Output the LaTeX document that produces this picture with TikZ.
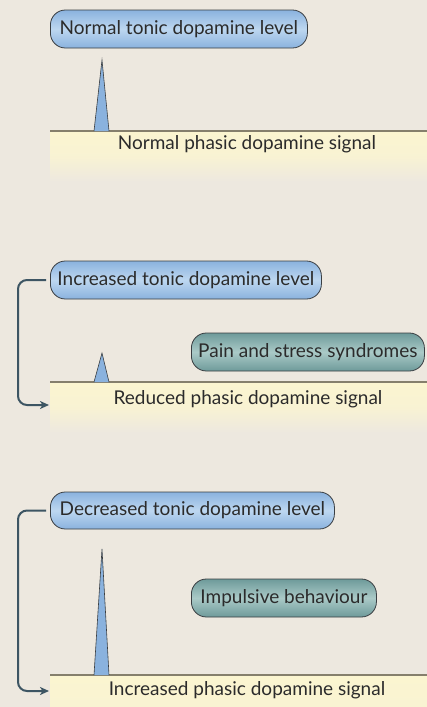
\documentclass[tikz,border=0pt]{standalone}
\usepackage{fontspec}
\setmainfont{Lato}
\usetikzlibrary{arrows.meta}
\definecolor{bg}{HTML}{EDE8DF}
\definecolor{bandy}{HTML}{FBF5D0}
\definecolor{bandline}{HTML}{857F6C}
\definecolor{blueedge}{HTML}{8AB2DE}
\definecolor{bluemid}{HTML}{BDD7F0}
\definecolor{tealedge}{HTML}{6E9A9A}
\definecolor{tealmid}{HTML}{AACAC7}
\definecolor{boxline}{HTML}{3A3E42}
\definecolor{conncol}{HTML}{3D5563}
\definecolor{txt}{HTML}{2B2B2B}
\tikzset{
  pill/.style={draw=boxline, line width=0.8pt, rounded corners=15pt, anchor=west,
    inner sep=0pt, text=txt, font=\fontsize{19}{22}\selectfont},
  tonic/.style={pill, top color=blueedge, bottom color=blueedge, middle color=bluemid},
  effect/.style={pill, top color=tealedge, bottom color=tealedge, middle color=tealmid},
  spike/.style={fill=blueedge, draw=boxline, line width=0.6pt, line join=miter},
  bandtext/.style={text=txt, font=\fontsize{19}{22}\selectfont, inner sep=0pt},
  conn/.style={draw=conncol, line width=2pt, rounded corners=9pt,
    -{Stealth[length=9pt,width=8pt,inset=2.5pt]}},
}
\begin{document}
\begin{tikzpicture}[x=1pt,y=-1pt]
\useasboundingbox (0,0) rectangle (427,707);
\fill[bg] (0,0) rectangle (427,707);

% bands
\shade[top color=bandy, bottom color=bg, middle color=bandy!80!bg] (50,131) rectangle (427,182);
\draw[bandline, line width=1.3pt] (50,131) -- (427,131);
\shade[top color=bandy, bottom color=bg, middle color=bandy!80!bg] (50,382) rectangle (427,433);
\draw[bandline, line width=1.3pt] (50,382) -- (427,382);
\shade[top color=bandy, bottom color=bandy!85!bg] (50,675) rectangle (427,707);
\draw[bandline, line width=1.3pt] (50,675) -- (427,675);

% spikes
\filldraw[spike] (94,131) -- (102,60) -- (109,131);
\filldraw[spike] (94,382) -- (102,353) -- (109,382);
\filldraw[spike] (94,675) -- (102,549) -- (109,675);

% panel 1
\node[tonic, minimum width=257pt, minimum height=38pt] (t1) at (50,29) {Normal tonic dopamine level};
\node[bandtext] (s1) at (247,144) {Normal phasic dopamine signal};

% panel 2
\node[tonic, minimum width=271pt, minimum height=38pt] (t2) at (50,280) {Increased tonic dopamine level};
\node[effect, minimum width=233pt, minimum height=38pt] (e2) at (191,352) {Pain and stress syndromes};
\node[bandtext] (s2) at (248,399) {Reduced phasic dopamine signal};
\coordinate (a2) at (49,405);
\draw[conn] ([xshift=-4pt]t2.west) -- ++(-28,0) |- (a2);

% panel 3
\node[tonic, minimum width=284pt, minimum height=37pt] (t3) at (50,510.5) {Decreased tonic dopamine level};
\node[effect, minimum width=185pt, minimum height=38pt] (e3) at (191,598) {Impulsive behaviour};
\node[bandtext] (s3) at (247,690) {Increased phasic dopamine signal};
\coordinate (a3) at (49,691);
\draw[conn] ([xshift=-4pt]t3.west) -- ++(-28,0) |- (a3);
\end{tikzpicture}
\end{document}
